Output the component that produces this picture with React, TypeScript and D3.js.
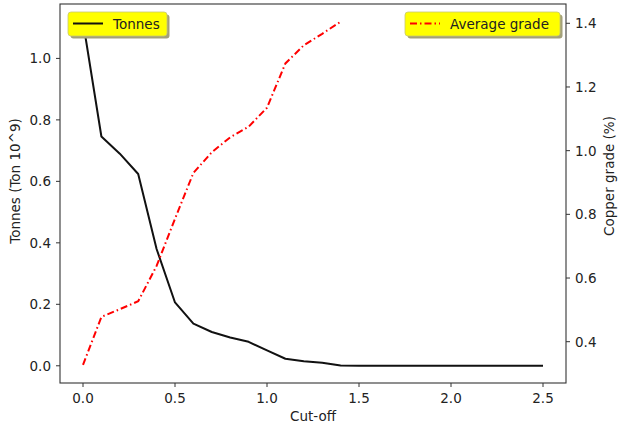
import React from "react";
import * as d3 from "d3";

const cutoffs = [0, 0.1, 0.2, 0.3, 0.4, 0.5, 0.6, 0.7, 0.8, 0.9, 1.0, 1.1, 1.2, 1.3, 1.4, 1.5, 1.6, 1.7, 1.8, 1.9, 2.0, 2.1, 2.2, 2.3, 2.4, 2.5];
const tonnes = [1.12, 0.746, 0.69, 0.624, 0.38, 0.206, 0.137, 0.11, 0.092, 0.078, 0.05, 0.023, 0.015, 0.01, 0.001, 0, 0, 0, 0, 0, 0, 0, 0, 0, 0, 0];
const gradeCutoffs = [0, 0.1, 0.2, 0.3, 0.4, 0.5, 0.6, 0.7, 0.8, 0.9, 1.0, 1.1, 1.2, 1.3, 1.4];
const grade = [0.327, 0.478, 0.502, 0.527, 0.638, 0.786, 0.93, 0.995, 1.042, 1.075, 1.135, 1.274, 1.331, 1.367, 1.405];
const xTicks = [0, 0.5, 1.0, 1.5, 2.0, 2.5];
const leftTicks = [0, 0.2, 0.4, 0.6, 0.8, 1.0];
const rightTicks = [0.4, 0.6, 0.8, 1.0, 1.2, 1.4];

const L = 60, R = 566, T = 4, B = 383;
const FONT = "DejaVu Sans, sans-serif";
const FS = 13.5;
const TXT = "#222";

export default function App() {
  const x = d3.scaleLinear().domain([-0.125, 2.625]).range([L, R]);
  const yL = d3.scaleLinear().domain([-0.056, 1.177]).range([B, T]);
  const yR = d3.scaleLinear().domain([0.2703, 1.4606]).range([B, T]);
  const fmt = d3.format(".1f");

  const tonLine = d3.line<number>().x((_, i) => x(cutoffs[i])).y((d) => yL(d))(tonnes) || "";
  const gradeLine = d3.line<number>().x((_, i) => x(gradeCutoffs[i])).y((d) => yR(d))(grade) || "";

  return (
    <svg width={619} height={430} style={{ position: "absolute", left: 0, top: 0, background: "#fff" }} fontFamily={FONT}>
      <rect x={0} y={0} width={619} height={430} fill="#fff" />
      <path d={tonLine} fill="none" stroke="#111" strokeWidth={2} strokeLinejoin="round" />
      <path d={gradeLine} fill="none" stroke="#ff0000" strokeWidth={2} strokeDasharray="7,3,1.5,3" />

      <rect x={L} y={T} width={R - L} height={B - T} fill="none" stroke="#333" strokeWidth={1.1} />

      {xTicks.map((t) => (
        <g key={"x" + t}>
          <line x1={x(t)} x2={x(t)} y1={B} y2={B + 4} stroke="#333" />
          <text x={x(t)} y={403} fontSize={FS} fill={TXT} textAnchor="middle">{fmt(t)}</text>
        </g>
      ))}
      {leftTicks.map((t) => (
        <g key={"l" + t}>
          <line x1={L - 4} x2={L} y1={yL(t)} y2={yL(t)} stroke="#333" />
          <text x={51} y={yL(t) + 5} fontSize={FS} fill={TXT} textAnchor="end">{fmt(t)}</text>
        </g>
      ))}
      {rightTicks.map((t) => (
        <g key={"r" + t}>
          <line x1={R} x2={R + 4} y1={yR(t)} y2={yR(t)} stroke="#333" />
          <text x={575} y={yR(t) + 5} fontSize={FS} fill={TXT} textAnchor="start">{fmt(t)}</text>
        </g>
      ))}

      <text x={313} y={421} fontSize={FS} fill={TXT} textAnchor="middle">Cut-off</text>
      <text transform="translate(20,181) rotate(-90)" fontSize={FS} fill={TXT} textAnchor="middle">Tonnes (Ton 10^9)</text>
      <text transform="translate(614,176) rotate(-90)" fontSize={FS} fill={TXT} textAnchor="middle">Copper grade (%)</text>

      <g>
        <rect x={70.5} y={14.5} width={99} height={24} rx={3} fill="#a3a07a" />
        <rect x={68} y={12} width={99} height={24} rx={3} fill="#ffff00" stroke="#c8c870" strokeWidth={0.8} />
        <line x1={73} x2={103} y1={23.5} y2={23.5} stroke="#111" strokeWidth={2} />
        <text x={113} y={28.5} fontSize={FS} fill={TXT}>Tonnes</text>
      </g>
      <g>
        <rect x={407.5} y={14.5} width={155} height={24} rx={3} fill="#a3a07a" />
        <rect x={405} y={12} width={155} height={24} rx={3} fill="#ffff00" stroke="#c8c870" strokeWidth={0.8} />
        <line x1={410} x2={440} y1={23.5} y2={23.5} stroke="#ff0000" strokeWidth={2} strokeDasharray="7,3,1.5,3" />
        <text x={450} y={28.5} fontSize={FS} fill={TXT}>Average grade</text>
      </g>
    </svg>
  );
}
